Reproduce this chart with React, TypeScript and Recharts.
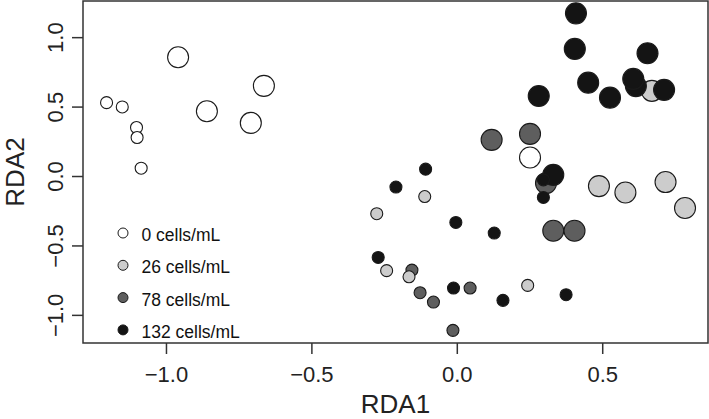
import { Legend, ReferenceArea, Scatter, ScatterChart, XAxis, YAxis } from "recharts"

// RDA site scores
const whiteSmall = [
  { x: -1.206, y: 0.532 },
  { x: -1.152, y: 0.501 },
  { x: -1.103, y: 0.353 },
  { x: -1.101, y: 0.281 },
  { x: -1.087, y: 0.06 },
]
const whiteLarge = [
  { x: -0.96, y: 0.859 },
  { x: -0.861, y: 0.47 },
  { x: -0.71, y: 0.386 },
  { x: -0.665, y: 0.653 },
  { x: 0.25, y: 0.137 },
]
const lightLarge = [
  { x: 0.669, y: 0.617 },
  { x: 0.487, y: -0.069 },
  { x: 0.578, y: -0.115 },
  { x: 0.716, y: -0.04 },
  { x: 0.783, y: -0.227 },
]
const lightSmall = [
  { x: -0.112, y: -0.144 },
  { x: -0.277, y: -0.268 },
  { x: -0.243, y: -0.678 },
  { x: -0.166, y: -0.722 },
  { x: 0.242, y: -0.784 },
]
const darkLarge = [
  { x: 0.118, y: 0.264 },
  { x: 0.25, y: 0.307 },
  { x: 0.33, y: -0.391 },
  { x: 0.403, y: -0.391 },
  { x: 0.305, y: -0.048 },
]
const darkSmall = [
  { x: -0.156, y: -0.674 },
  { x: -0.128, y: -0.837 },
  { x: -0.082, y: -0.904 },
  { x: 0.044, y: -0.803 },
  { x: -0.015, y: -1.108 },
]
const blackLarge = [
  { x: 0.408, y: 1.175 },
  { x: 0.404, y: 0.919 },
  { x: 0.654, y: 0.888 },
  { x: 0.45, y: 0.676 },
  { x: 0.614, y: 0.651 },
  { x: 0.605, y: 0.703 },
  { x: 0.525, y: 0.568 },
  { x: 0.711, y: 0.624 },
  { x: 0.28, y: 0.58 },
  { x: 0.33, y: 0.012 },
]
const blackSmall = [
  { x: -0.109, y: 0.053 },
  { x: -0.211, y: -0.076 },
  { x: 0.296, y: -0.024 },
  { x: 0.296, y: -0.151 },
  { x: -0.005, y: -0.331 },
  { x: 0.127, y: -0.407 },
  { x: -0.272, y: -0.583 },
  { x: -0.013, y: -0.803 },
  { x: 0.157, y: -0.892 },
  { x: 0.374, y: -0.851 },
]

const legendLabels = ["0 cells/mL", "26 cells/mL", "78 cells/mL", "132 cells/mL"]
const xTicks = [-1, -0.5, 0, 0.5]
const yTicks = [-1, -0.5, 0, 0.5, 1]
const xDomain = [-1.287, 0.862]
const yDomain = [-1.199, 1.264]

const FONT = "'Liberation Sans', Arial, Helvetica, sans-serif"
const INK = "#333"
const fills = ["#ffffff", "#cccccc", "#5e5e5e", "#141414"]

const fmt = (v: number) => v.toFixed(1).replace("-", "\u2212")

const dot = (fill: string, r: number) => (p: any) =>
  <circle cx={p.cx} cy={p.cy} r={r} fill={fill} stroke="#1a1a1a" strokeWidth={1.1} />

const XTick = ({ x, y, payload }: any) => (
  <text x={x} y={y + 26} textAnchor="middle" fontSize={22} fontFamily={FONT} fill="#222">
    {fmt(payload.value)}
  </text>
)

const YTick = ({ x, y, payload }: any) => (
  <text
    x={x - 7}
    y={y}
    transform={`rotate(-90, ${x - 7}, ${y})`}
    textAnchor="middle"
    fontSize={22}
    fontFamily={FONT}
    fill="#222"
  >
    {fmt(payload.value)}
  </text>
)

const LegendBox = () => (
  <svg width={140} height={130}>
    {legendLabels.map((label, i) => (
      <g key={label}>
        <circle cx={13} cy={18 + i * 32.3} r={5} fill={fills[i]} stroke="#1a1a1a" strokeWidth={1} />
        <text x={31.5} y={26 + i * 32.3} fontSize={17.5} fontFamily={FONT} fill="#111">
          {label}
        </text>
      </g>
    ))}
  </svg>
)

export default function App() {
  const SMALL = 6
  const LARGE = 10.5
  return (
    <div style={{ position: "absolute", left: 0, top: 0, background: "#fff" }}>
      <ScatterChart width={709} height={419} margin={{ top: 1, right: 1, bottom: 0, left: 0 }}>
        <XAxis
          type="number"
          dataKey="x"
          domain={xDomain}
          allowDataOverflow
          ticks={xTicks}
          height={76}
          axisLine={false}
          tickSize={11}
          tickLine={{ stroke: INK, strokeWidth: 1.5 }}
          tick={<XTick />}
          label={(props: any) => {
            const vb = props.viewBox
            return (
              <text x={vb.x + vb.width / 2} y={413} textAnchor="middle" fontSize={26} fontFamily={FONT} fill="#222">
                RDA1
              </text>
            )
          }}
        />
        <YAxis
          type="number"
          dataKey="y"
          domain={yDomain}
          allowDataOverflow
          ticks={yTicks}
          width={83}
          axisLine={false}
          tickSize={11}
          tickLine={{ stroke: INK, strokeWidth: 1.5 }}
          tick={<YTick />}
          label={(props: any) => {
            const vb = props.viewBox
            const cy = vb.y + vb.height / 2
            return (
              <text
                x={24}
                y={cy}
                transform={`rotate(-90, 24, ${cy})`}
                textAnchor="middle"
                fontSize={26}
                fontFamily={FONT}
                fill="#222"
              >
                RDA2
              </text>
            )
          }}
        />
        <ReferenceArea
          x1={xDomain[0]}
          x2={xDomain[1]}
          y1={yDomain[0]}
          y2={yDomain[1]}
          fill="none"
          fillOpacity={0}
          stroke={INK}
          strokeWidth={1.5}
        />
        <Scatter data={whiteLarge} shape={dot(fills[0], LARGE)} isAnimationActive={false} />
        <Scatter data={lightLarge} shape={dot(fills[1], LARGE)} isAnimationActive={false} />
        <Scatter data={darkLarge} shape={dot(fills[2], LARGE)} isAnimationActive={false} />
        <Scatter data={blackLarge} shape={dot(fills[3], LARGE)} isAnimationActive={false} />
        <Scatter data={whiteSmall} shape={dot(fills[0], SMALL)} isAnimationActive={false} />
        <Scatter data={darkSmall} shape={dot(fills[2], SMALL)} isAnimationActive={false} />
        <Scatter data={lightSmall} shape={dot(fills[1], SMALL)} isAnimationActive={false} />
        <Scatter data={blackSmall} shape={dot(fills[3], SMALL)} isAnimationActive={false} />
        <Legend
          layout="vertical"
          align="center"
          verticalAlign="middle"
          content={<LegendBox />}
          wrapperStyle={{ left: 110, top: 215, width: 140, height: 130 }}
        />
      </ScatterChart>
    </div>
  )
}
